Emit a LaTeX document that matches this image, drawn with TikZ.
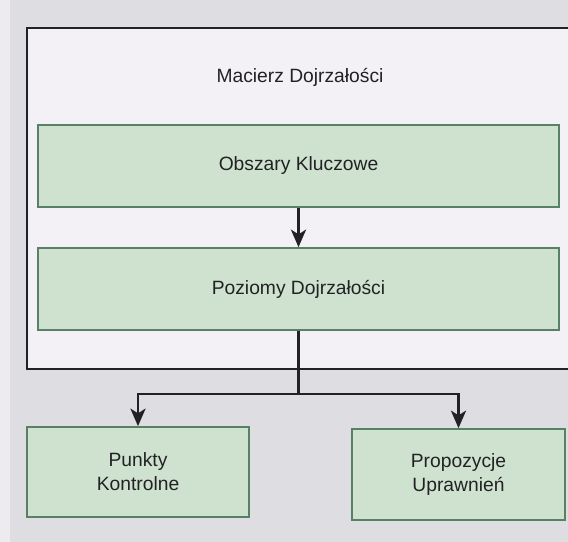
\documentclass[tikz,border=0pt]{standalone}
\usepackage{fontspec}
\setmainfont{Liberation Sans}
\usetikzlibrary{arrows.meta}

\definecolor{paper}{RGB}{222,221,226}
\definecolor{frame}{RGB}{243,241,245}
\definecolor{boxfill}{RGB}{207,226,208}
\definecolor{boxline}{RGB}{88,128,100}
\definecolor{ink}{RGB}{34,34,36}

\begin{document}
\begin{tikzpicture}[
    greenbox/.style={draw=boxline, line width=1.2pt, fill=boxfill, text=ink,
        font=\fontsize{13.7}{17}\selectfont, align=center, inner sep=0pt},
    link/.style={draw=ink, line width=1.5pt},
    arrow/.style={link, -{Stealth[length=4.4mm, width=3.8mm, inset=1.2mm]}}
]

% Paper and frame
\useasboundingbox (0,0) rectangle (14.2,-13.55);
\clip (0,0) rectangle (14.2,-13.55);
\fill[paper] (0,0) rectangle (14.2,-13.55);
\fill[frame!70!paper] (0,0) rectangle (0.25,-13.55);
\draw[ink, line width=1.6pt, fill=frame] (0.675,-0.7) rectangle (14.6,-9.225);

% Title of the frame
\node[text=ink, font=\fontsize{13.7}{17}\selectfont] (macierz) at (7.5,-1.925) {Macierz Dojrzałości};

% Boxes inside the frame
\node[greenbox, minimum width=13.025cm, minimum height=2.05cm] (obszary) at (7.4625,-4.15) {Obszary Kluczowe};
\node[greenbox, minimum width=13.025cm, minimum height=2.05cm] (poziomy) at (7.4625,-7.225) {Poziomy Dojrzałości};

% Boxes below the frame
\node[greenbox, minimum width=5.55cm, minimum height=2.25cm] (punkty) at (3.45,-11.8) {Punkty\\Kontrolne};
\node[greenbox, minimum width=5.325cm, minimum height=2.275cm] (propozycje) at (11.4625,-11.8625) {Propozycje\\Uprawnień};

% Connectors
\draw[arrow] (obszary) -- (poziomy);
\draw[link] (poziomy.south) -- ++(0,-1.575) coordinate (split);
\foreach \t in {punkty, propozycje} {
    \draw[arrow] (split) -| (\t.north);
}

\end{tikzpicture}
\end{document}
